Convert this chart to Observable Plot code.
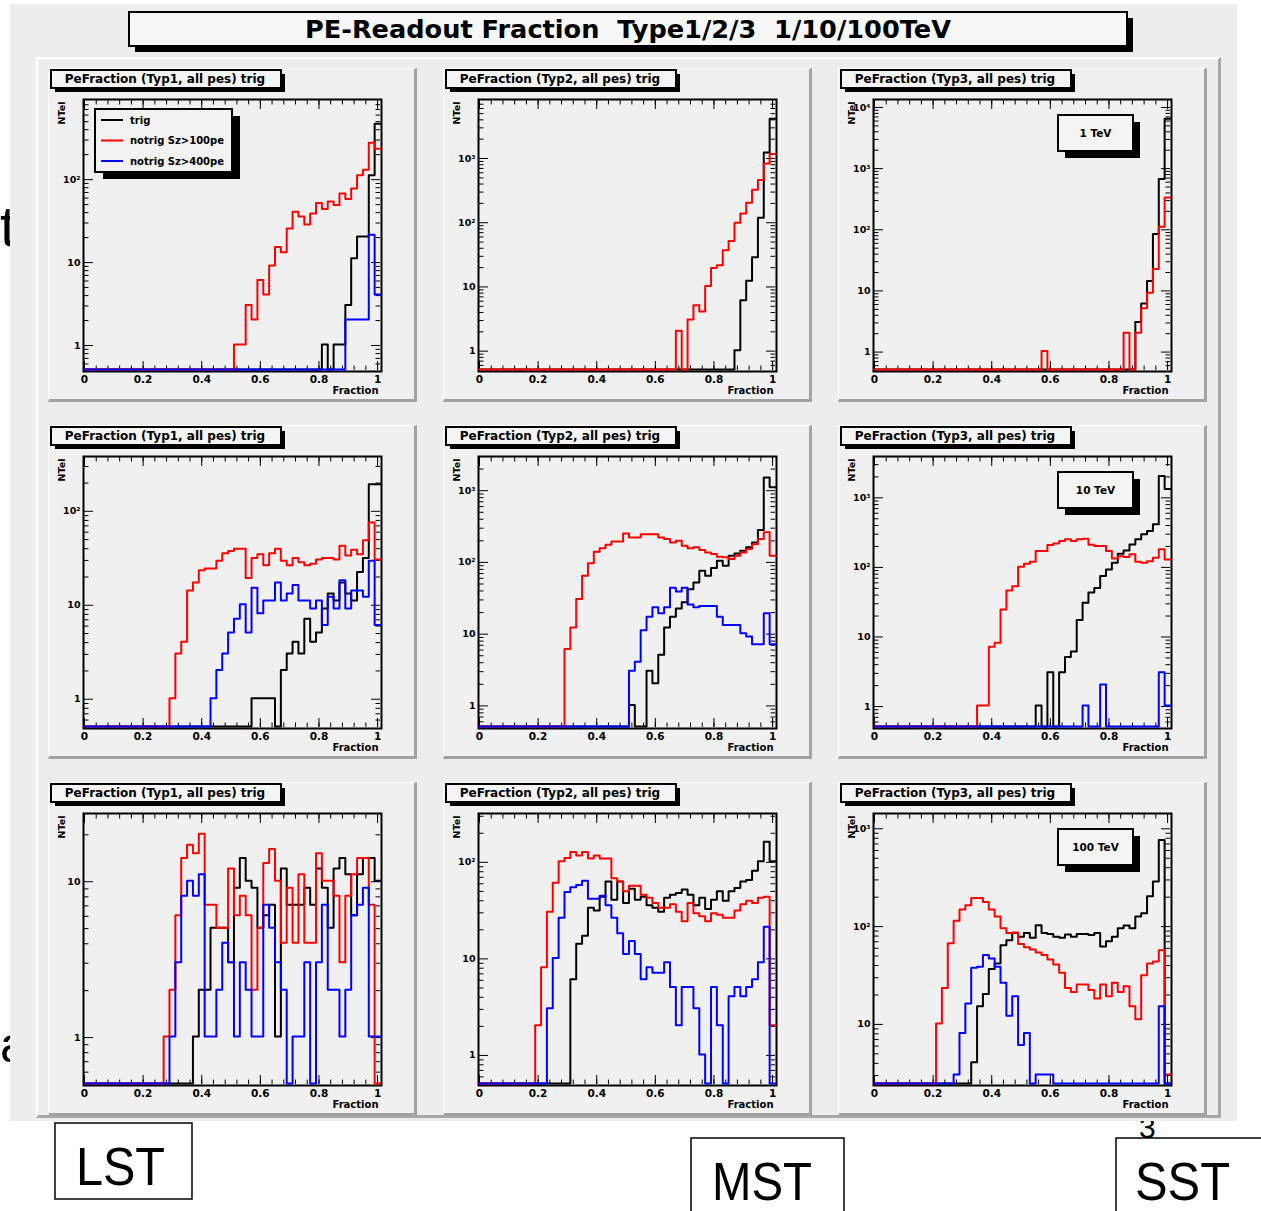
<!DOCTYPE html>
<html>
<head>
<meta charset="utf-8">
<script src="https://cdn.jsdelivr.net/npm/d3@7"></script>
<script src="https://cdn.jsdelivr.net/npm/@observablehq/plot@0.6"></script>
<style>
  html, body { margin: 0; padding: 0; background: #ffffff; }
  #page { position: relative; width: 1261px; height: 1211px; overflow: hidden; background: #ffffff; }
  .a { position: absolute; box-sizing: border-box; }
</style>
</head>
<body>
<div id="page"></div>
<script>
// ======================= DATA =======================
const mainTitle = "PE-Readout Fraction  Type1/2/3  1/10/100TeV";
const padTitles = ["PeFraction (Typ1, all pes) trig", "PeFraction (Typ2, all pes) trig", "PeFraction (Typ3, all pes) trig"];
const energyLabels = ["1 TeV", "10 TeV", "100 TeV"];
const telescopeLabels = ["LST", "MST", "SST"];
const legendLabels = ["trig", "notrig Sz>100pe", "notrig Sz>400pe"];
const xAxisTitle = "Fraction";
const yAxisTitle = "NTel";
const xTickValues = [0, 0.2, 0.4, 0.6, 0.8, 1];
const xTickLabels = ["0", "0.2", "0.4", "0.6", "0.8", "1"];
const yDecades = [1, 10, 100, 1000, 10000];
const yDecadeLabels = ["1", "10", "10\u00B2", "10\u00B3", "10\u2074"];
const slideFragments = ["t", "a", "3"];

// Histograms: bins of width 0.02 centred on 0.02*k (k = 0..50);
// `first` is the k of the first listed count, unlisted bins are empty.
// 1 TeV
const lst1TeV_trig  = {first: 41, n: [1,0,1,1,3,11,20,20,110,460]};
const lst1TeV_sz100 = {first: 26, n: [1,1,3,2,6,4,9,15,13,25,40,35,28,38,51,43,53,48,66,57,76,110,128,270,230]};
const lst1TeV_sz400 = {first: 45, n: [2,2,2,2,21,4]};
const mst1TeV_trig  = {first: 44, n: [1,6,12,28,115,1200,4000]};
const mst1TeV_sz100 = {first: 34, n: [2,0,3,5,4,10,19,21,36,50,96,134,197,315,447,805,1130]};
const sst1TeV_trig  = {first: 45, n: [3,6,14,82,650,6300]};
const sst1TeV_sz100 = {first: 29, n: [1,0,0,0,0,0,0,0,0,0,0,0,0,0,2,0,2,5,9,22,108,326]};
// 10 TeV
const lst10TeV_trig  = {first: 29, n: [1,1,1,1,0,2,3,4,3,7,4,5,9,13,11,17,13,11,22,31,190,190]};
const lst10TeV_sz100 = {first: 15, n: [1,3,4,14,17,23,24,24,29,35,37,39,39,19,31,34,26,35,39,29,26,31,28,26,27,30,31,31,30,42,33,38,34,48,74,30]};
const lst10TeV_sz400 = {first: 22, n: [1,2,3,5,7,10,5,15,8,11,11,17,11,13,16,11,11,9,11,6,12,9,18,9,14,14,12,29,6]};
const mst10TeV_trig  = {first: 26, n: [1,0,0,3,2,5,12,17,22,27,41,51,74,63,81,102,87,120,129,141,157,184,274,1480,1080]};
const mst10TeV_sz100 = {first: 15, n: [6,12,30,63,94,136,153,171,190,190,245,216,216,240,240,240,216,205,184,194,165,153,157,144,133,127,116,114,108,120,133,149,174,205,254,120]};
const mst10TeV_sz400 = {first: 26, n: [3,4,11,17,23,19,23,43,38,43,25,23,24,24,24,17,13,13,13,10,9,7,7,19,7]};
const sst10TeV_trig  = {first: 28, n: [1,0,3,0,3,5,6,17,30,42,49,73,90,113,152,170,207,245,289,323,404,2000,1300]};
const sst10TeV_sz100 = {first: 18, n: [1,1,7,8,24,45,52,99,109,117,166,166,203,214,232,245,232,245,250,205,197,197,166,130,140,137,149,117,113,119,133,176,126]};
const sst10TeV_sz400 = {first: 36, n: [1,0,0,2,0,0,0,0,0,0,0,0,0,3,1]};
// 100 TeV
const lst100TeV_trig  = {first: 19, n: [1,2,2,5,5,5,3,9,14,10,9,5,6,7,1,12,7,7,7,9,7,12,9,5,12,14,11,6,11,14,14,10]};
const lst100TeV_sz100 = {first: 14, n: [1,2,6,14,17,15,20,7,7,5,5,12,6,8,6,2,5,13,16,10,4,9,4,11,4,4,15,10,10,8,3,8,11,14,14,7,0]};
const lst100TeV_sz400 = {first: 15, n: [1,3,8,10,8,11,1,1,2,4,3,1,3,2,1,1,7,5,3,2,0,1,1,3,0,3,7,2,2,1,2,6,7,9,1,1]};
const mst100TeV_trig  = {first: 16, n: [6,14,17,33,31,43,62,40,62,37,52,40,43,35,33,30,42,45,47,51,45,35,42,32,40,49,39,49,53,62,64,80,100,160,100]};
const mst100TeV_sz100 = {first: 10, n: [2,8,30,60,100,108,125,115,125,107,115,107,107,67,62,49,56,56,45,42,37,33,33,36,30,24,37,29,27,24,29,28,26,26,31,36,39,37,42,43,2]};
const mst100TeV_sz400 = {first: 12, n: [3,10,26,48,54,57,63,41,41,44,35,26,18,11,15,11,6,8,7,7,9,5,2,5,5,3,1,0,5,2,0,4,5,4,5,6,9,21,0]};
const sst100TeV_trig  = {first: 17, n: [4,15,20,36,41,63,71,84,77,84,75,101,84,82,77,75,81,77,82,82,80,84,61,69,77,94,100,94,124,134,200,282,750,0]};
const sst100TeV_sz100 = {first: 11, n: [10,23,66,112,146,161,191,191,174,146,124,94,84,85,65,60,57,53,50,45,40,33,23,21,25,25,22,18,25,19,26,21,24,15,11,31,41,43,56,3]};
const sst100TeV_sz400 = {first: 14, n: [3,8,16,37,38,50,46,38,26,12,19,6,8,0,3,3,3,0,0,0,0,0,0,0,0,0,0,0,0,0,0,0,0,0,0,15,0]};

// y-axis ranges of each pad [min, max]
const yRange_lst1TeV = [0.5, 900],  yRange_mst1TeV = [0.5, 8000], yRange_sst1TeV = [0.5, 13000];
const yRange_lst10TeV = [0.5, 374], yRange_mst10TeV = [0.5, 2900], yRange_sst10TeV = [0.5, 3800];
const yRange_lst100TeV = [0.5, 27], yRange_mst100TeV = [0.5, 313], yRange_sst100TeV = [2.43, 1400];

const BIN = 0.02, NBIN = 51, XMAX = 1.01;

// ======================= LAYOUT =======================
const panels = [
  [ {s: [lst1TeV_trig, lst1TeV_sz100, lst1TeV_sz400], y: yRange_lst1TeV},
    {s: [mst1TeV_trig, mst1TeV_sz100], y: yRange_mst1TeV},
    {s: [sst1TeV_trig, sst1TeV_sz100], y: yRange_sst1TeV} ],
  [ {s: [lst10TeV_trig, lst10TeV_sz100, lst10TeV_sz400], y: yRange_lst10TeV},
    {s: [mst10TeV_trig, mst10TeV_sz100, mst10TeV_sz400], y: yRange_mst10TeV},
    {s: [sst10TeV_trig, sst10TeV_sz100, sst10TeV_sz400], y: yRange_sst10TeV} ],
  [ {s: [lst100TeV_trig, lst100TeV_sz100, lst100TeV_sz400], y: yRange_lst100TeV},
    {s: [mst100TeV_trig, mst100TeV_sz100, mst100TeV_sz400], y: yRange_mst100TeV},
    {s: [sst100TeV_trig, sst100TeV_sz100, sst100TeV_sz400], y: yRange_sst100TeV} ]
];
const lineColors = ["#000000", "#ff0000", "#0000ff"];
const padX = [48, 443, 838], padY = [68, 425, 782];
const PW = 369, PH = 334, ML = 36, MR = 37, MT = 32, MB = 32;
const FW = PW - ML - MR, FH = PH - MT - MB;
const BOLD = "'DejaVu Sans', sans-serif";
const SANS = "'Liberation Sans', Arial, sans-serif";

const page = document.getElementById("page");
const NS = "http://www.w3.org/2000/svg";
function fullSvg() {
  const s = document.createElementNS(NS, "svg");
  s.setAttribute("width", 1261); s.setAttribute("height", 1211);
  s.setAttribute("class", "a");
  s.style.left = "0px"; s.style.top = "0px"; s.style.overflow = "visible";
  page.appendChild(s);
  return d3.select(s);
}
function div(x, y, w, h, style) {
  const d = document.createElement("div");
  d.className = "a";
  Object.assign(d.style, {left: x + "px", top: y + "px", width: w + "px", height: h + "px"}, style);
  page.appendChild(d);
  return d;
}

// --- layer under the canvas (fragments of slide text, mostly hidden) ---
const under = fullSvg();
under.append("text").attr("x", 0).attr("y", 246).attr("font-family", SANS).attr("font-size", 58).text(slideFragments[0]);
under.append("text").attr("x", 0).attr("y", 1062).attr("font-family", SANS).attr("font-size", 50).text(slideFragments[1]);
under.append("text").attr("x", 1139).attr("y", 1138).attr("font-family", SANS).attr("font-size", 30).text(slideFragments[2]);

// --- ROOT canvas ---
div(10, 4, 1227, 1117, {background: "#ededed"});
div(36, 57, 1185, 1061, {borderTop: "2px solid #ffffff", borderLeft: "2px solid #ffffff", borderRight: "3px solid #a8a8a8", borderBottom: "3px solid #a8a8a8"});

function histPoints(h, ymin) {
  const pts = [];
  for (let k = 0; k < NBIN; k++) {
    const i = k - h.first;
    const c = (i >= 0 && i < h.n.length) ? h.n[i] : 0;
    pts.push({x: Math.max(0, k * BIN - BIN / 2), y: Math.max(c, ymin)});
  }
  pts.push({x: XMAX, y: pts[pts.length - 1].y});
  return pts;
}

const xMinorTicks = d3.range(0, 26).map(i => i * 0.04);

panels.forEach((rowP, r) => rowP.forEach((p, c) => {
  div(padX[c], padY[r], PW, PH, {background: "#f0f0f0", borderTop: "1px solid #ffffff", borderLeft: "1px solid #ffffff", borderRight: "3px solid #a3a3a3", borderBottom: "3px solid #a3a3a3"});
  const [ymin, ymax] = p.y;
  const yMaj = yDecades.filter(v => v >= ymin && v <= ymax);
  const yMin = [];
  for (const d of [0.1, 1, 10, 100, 1000, 10000]) for (let m = 2; m <= 9; m++) { const v = d * m; if (v > ymin && v < ymax) yMin.push(v); }
  const tk = {stroke: "#000", strokeWidth: 1};
  const marks = [
    Plot.frame({stroke: "#000", strokeWidth: 2, inset: -1}),
    Plot.ruleX(xMinorTicks, {...tk, insetTop: FH - 4.5}),
    Plot.ruleX(xMinorTicks, {...tk, insetBottom: FH - 4.5}),
    Plot.ruleX(xTickValues, {...tk, insetTop: FH - 9}),
    Plot.ruleX(xTickValues, {...tk, insetBottom: FH - 9}),
    Plot.ruleY(yMin, {...tk, insetRight: FW - 4.5}),
    Plot.ruleY(yMin, {...tk, insetLeft: FW - 4.5}),
    Plot.ruleY(yMaj, {...tk, insetRight: FW - 9}),
    Plot.ruleY(yMaj, {...tk, insetLeft: FW - 9})
  ];
  p.s.forEach((h, i) => marks.push(Plot.line(histPoints(h, ymin), {x: "x", y: "y", curve: "step-after", stroke: lineColors[i], strokeWidth: 2, dy: -1})));
  marks.push(
    Plot.text(xTickValues, {x: d => d, text: (d, i) => xTickLabels[i], frameAnchor: "bottom", lineAnchor: "top", dy: 5, fontSize: 10.5}),
    Plot.text(yMaj, {y: d => d, text: d => yDecadeLabels[yDecades.indexOf(d)], frameAnchor: "left", textAnchor: "end", dx: -4, fontSize: 9.5}),
    Plot.text([xAxisTitle], {text: d => d, frameAnchor: "bottom-right", textAnchor: "end", lineAnchor: "top", dy: 16, dx: -2, fontSize: 10}),
    Plot.text([yAxisTitle], {text: d => d, frameAnchor: "top-left", rotate: -90, textAnchor: "end", lineAnchor: "middle", dx: -23, dy: 1, fontSize: 9.5})
  );
  const svg = Plot.plot({
    width: PW, height: PH, marginLeft: ML, marginRight: MR, marginTop: MT, marginBottom: MB,
    x: {domain: [0, XMAX], axis: null},
    y: {type: "log", domain: [ymin, ymax], axis: null},
    style: {background: "transparent", fontFamily: BOLD, fontWeight: "bold", fontSize: "10px", overflow: "visible", color: "#000"},
    marks
  });
  svg.classList.add("a");
  svg.style.left = padX[c] + "px";
  svg.style.top = padY[r] + "px";
  svg.style.maxWidth = "none";
  page.appendChild(svg);
}));

// --- overlay: boxes and texts ---
const over = fullSvg();
function shadowRect(x, y, w, h, sx, sy, fill, sw) {
  over.append("rect").attr("x", x + sx).attr("y", y + sy).attr("width", w).attr("height", h).attr("fill", "#000");
  over.append("rect").attr("x", x).attr("y", y).attr("width", w).attr("height", h).attr("fill", fill).attr("stroke", "#000").attr("stroke-width", sw);
}
// main title
shadowRect(129, 12, 998, 34, 6, 6, "#f7f7f7", 2);
over.append("text").attr("x", 628).attr("y", 38).attr("text-anchor", "middle")
  .attr("font-family", BOLD).attr("font-weight", "bold").attr("font-size", 24)
  .attr("xml:space", "preserve").style("white-space", "pre")
  .attr("textLength", 646).attr("lengthAdjust", "spacingAndGlyphs").text(mainTitle);

panels.forEach((rowP, r) => rowP.forEach((p, c) => {
  const x0 = padX[c], y0 = padY[r];
  shadowRect(x0 + 3, y0 + 2, 230, 18, 4, 4, "#f4f4f4", 2);
  over.append("text").attr("x", x0 + 117).attr("y", y0 + 15).attr("text-anchor", "middle")
    .attr("font-family", BOLD).attr("font-weight", "bold").attr("font-size", 12).text(padTitles[c]);
  if (c === 2) {
    shadowRect(x0 + 220, y0 + 47, 75, 36, 7, 7, "#f4f4f4", 2);
    over.append("text").attr("x", x0 + 257.5).attr("y", y0 + 69).attr("text-anchor", "middle")
      .attr("font-family", BOLD).attr("font-weight", "bold").attr("font-size", 10.5).text(energyLabels[r]);
  }
  if (r === 0 && c === 0) {
    shadowRect(x0 + 47, y0 + 41, 137, 63, 8, 7, "#f2f2f2", 2);
    legendLabels.forEach((lab, i) => {
      const yy = y0 + 52 + i * 20.5;
      over.append("line").attr("x1", x0 + 53).attr("x2", x0 + 75).attr("y1", yy).attr("y2", yy)
        .attr("stroke", lineColors[i]).attr("stroke-width", 2);
      over.append("text").attr("x", x0 + 82).attr("y", yy + 3.6)
        .attr("font-family", BOLD).attr("font-weight", "bold").attr("font-size", 10).text(lab);
    });
  }
}));

// telescope labels under the canvas
const telBoxes = [[55, 1123, 137, 76], [691, 1138, 153, 90], [1116, 1138, 160, 90]];
const telText = [[76, 1185, 89], [712, 1200, 100], [1135, 1200, 95]];
telescopeLabels.forEach((lab, i) => {
  const [x, y, w, h] = telBoxes[i];
  over.append("rect").attr("x", x).attr("y", y).attr("width", w).attr("height", h)
    .attr("fill", "#ffffff").attr("stroke", "#000").attr("stroke-width", 1.5);
  const [tx, ty, tl] = telText[i];
  over.append("text").attr("x", tx).attr("y", ty).attr("font-family", SANS).attr("font-size", 53)
    .attr("textLength", tl).attr("lengthAdjust", "spacingAndGlyphs").text(lab);
});
</script>
</body>
</html>
